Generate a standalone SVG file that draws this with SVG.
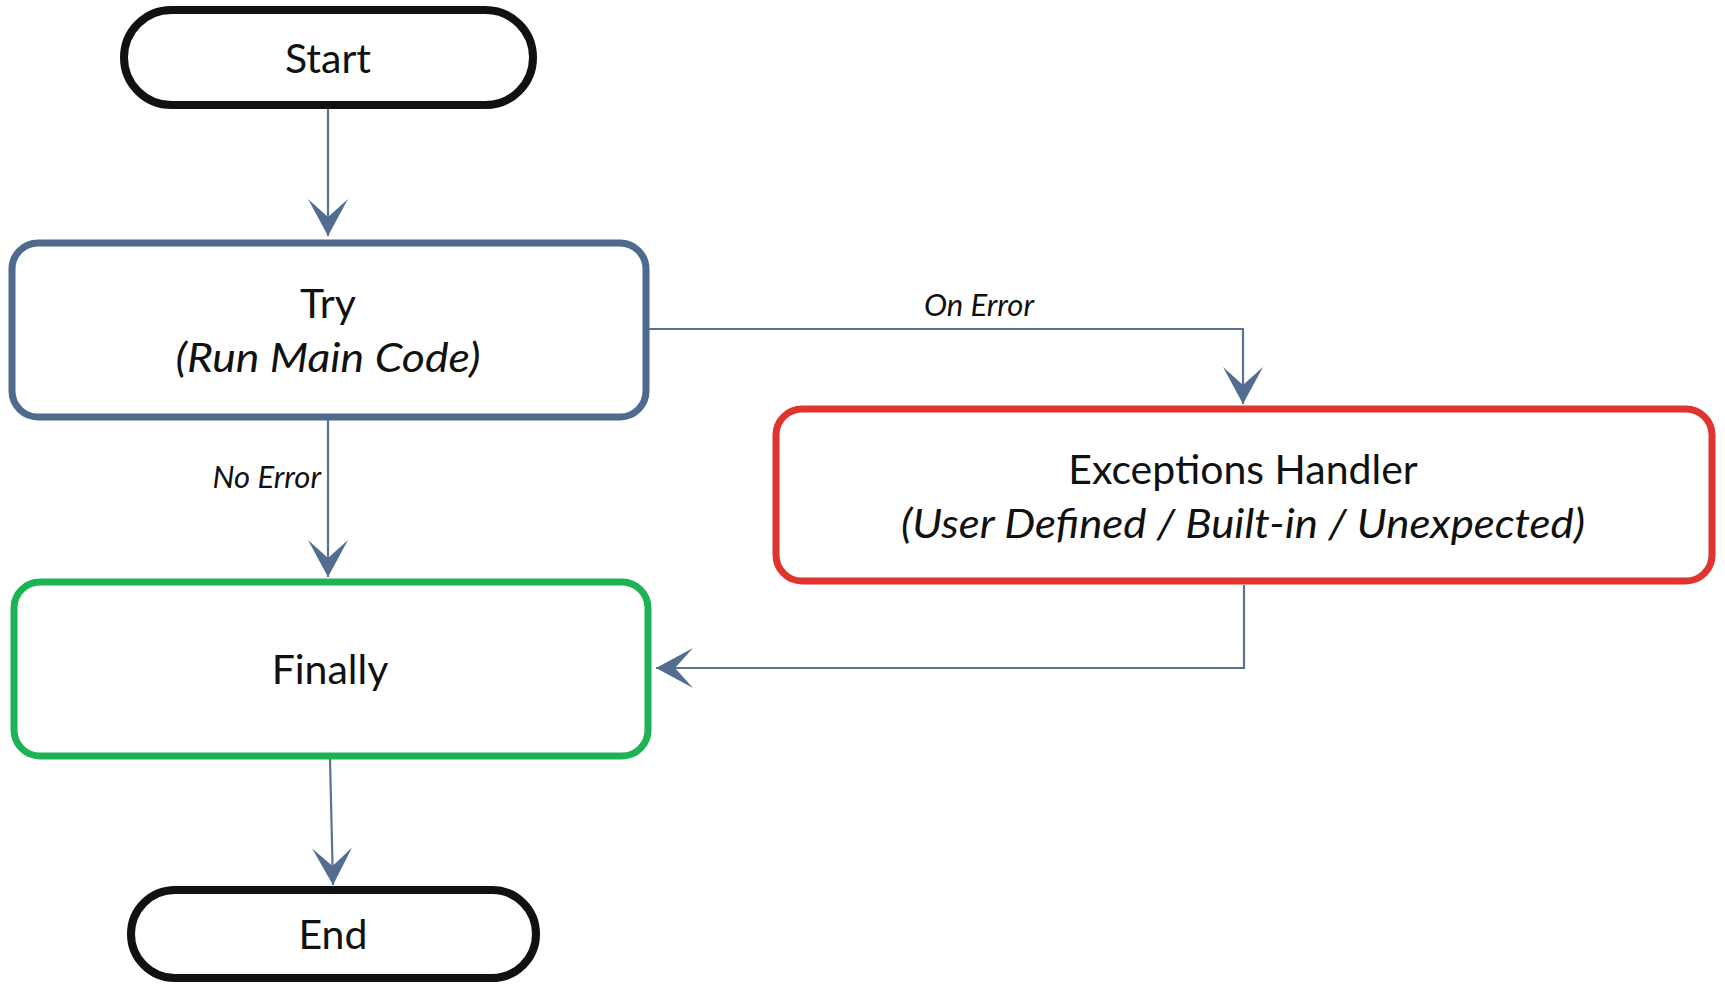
<svg xmlns="http://www.w3.org/2000/svg" width="1725" height="993" viewBox="0 0 1725 993">
<defs>
<marker id="arr" markerUnits="userSpaceOnUse" markerWidth="40" markerHeight="44" viewBox="-38 -22 40 44" refX="0" refY="0" orient="auto">
<path d="M0,0 L-37,-20 L-19,0 L-37,20 Z" fill="#536d90"/>
</marker>
</defs>
<style>
.term{fill:#fff;stroke:#111;stroke-width:8}
.box{fill:#fff;stroke-width:7}
.t{font-family:Lato,"Open Sans",sans-serif;font-size:41px;fill:#111;text-anchor:middle}
.i{font-style:italic}
.lbl{font-family:Lato,"Open Sans",sans-serif;font-size:31px;font-style:italic;fill:#111}
.c{fill:none;stroke:#5a7394;stroke-width:2.2}
</style>
<rect width="1725" height="993" fill="#fff"/>
<g id="connectors">
<path class="c" d="M328,107 L328,236" marker-end="url(#arr)"/>
<path class="c" d="M649,329 L1243,329 L1243,404" marker-end="url(#arr)"/>
<path class="c" d="M328,420 L328,577" marker-end="url(#arr)"/>
<path class="c" d="M1244,585 L1244,668 L656,668" marker-end="url(#arr)"/>
<path class="c" d="M330,759 L333,885" marker-end="url(#arr)"/>
<text class="lbl" x="979" y="316" text-anchor="middle">On Error</text>
<text class="lbl" x="321" y="488" text-anchor="end">No Error</text>
</g>
<g id="start">
<rect class="term" x="124" y="10" width="409" height="95" rx="47.5"/>
<text class="t" x="328" y="73">Start</text>
</g>
<g id="try">
<rect class="box" x="12" y="243" width="634" height="174" rx="26" stroke="#4e6a8d"/>
<text class="t" x="328" y="318">Try</text>
<text class="t i" x="328" y="372" textLength="305" lengthAdjust="spacingAndGlyphs">(Run Main Code)</text>
</g>
<g id="exceptions">
<rect class="box" x="776" y="409" width="936" height="172" rx="26" stroke="#e0352f"/>
<text class="t" x="1243" y="484">Exceptions Handler</text>
<text class="t i" x="1243" y="538" textLength="684" lengthAdjust="spacingAndGlyphs">(User Defined / Built-in / Unexpected)</text>
</g>
<g id="finally">
<rect class="box" x="14" y="582" width="634" height="174" rx="26" stroke="#1db354"/>
<text class="t" x="330" y="684">Finally</text>
</g>
<g id="end">
<rect class="term" x="131" y="890" width="405" height="88" rx="44"/>
<text class="t" x="333" y="949">End</text>
</g>
</svg>
